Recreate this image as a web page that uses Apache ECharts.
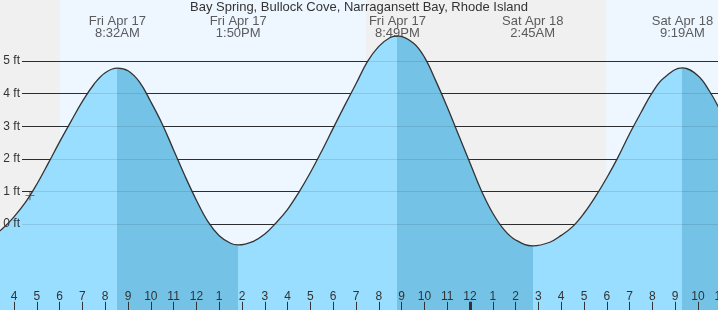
<!DOCTYPE html>
<html><head><meta charset="utf-8">
<script src="https://cdn.jsdelivr.net/npm/echarts@6/dist/echarts.min.js"></script>
<style>html,body{margin:0;padding:0;background:#f0f0f0}#c{width:718px;height:310px}</style>
</head><body><div id="c"></div>
<script>
const chartTitle = 'Bay Spring, Bullock Cove, Narragansett Bay, Rhode Island';
// hours since midnight, Fri Apr 17
const tideHours = [3.0,3.5,4.0,4.5,5.0,5.5,6.0,6.5,7.0,7.5,8.0,8.533,9.0,9.5,10.0,10.5,11.0,11.5,12.0,12.5,13.0,13.5,13.833,
  14.5,15.0,15.5,16.0,16.5,17.0,17.5,18.0,18.5,19.0,19.5,20.0,20.5,20.817,21.5,22.0,22.5,23.0,23.5,24.0,24.5,25.0,
  25.5,26.0,26.75,27.5,28.0,28.5,29.0,29.5,30.0,30.5,31.0,31.5,32.0,32.5,33.317,34.0,34.5,35.0];
const tideFeet = [-0.40,-0.14,0.22,0.66,1.22,1.86,2.52,3.15,3.76,4.28,4.64,4.78,4.70,4.36,3.75,3.07,2.27,1.47,0.73,0.08,-0.36,-0.59,-0.64,
  -0.53,-0.31,0.04,0.45,0.98,1.58,2.24,2.94,3.63,4.30,4.98,5.45,5.72,5.77,5.56,5.12,4.39,3.59,2.73,1.87,1.02,0.33,
  -0.18,-0.49,-0.67,-0.56,-0.35,-0.08,0.33,0.84,1.42,2.06,2.77,3.42,4.04,4.48,4.79,4.55,4.08,3.45];
const eventHours = [8.533, 13.833, 20.817, 26.75, 33.317];
const eventDays = ['Fri Apr 17','Fri Apr 17','Fri Apr 17','Sat Apr 18','Sat Apr 18'];
const eventTimes = ['8:32AM','1:50PM','8:49PM','2:45AM','9:19AM'];
const daylight = [[6.02, 19.44], [29.96, 35.0]];
const gridFeet = [0, 1, 2, 3, 4, 5];
const hourTicks = [3, 35];
const nowPoint = [4.70, 0.87];

const FONT = "'Liberation Sans', Arial, sans-serif";
const LIGHT = '#99ddff', DARK = '#74c2e6';
const GRID_X0 = 4.351;   // where gridlines begin (after label)
const LABEL_Y = 6.037;   // level for the event labels

const pts = tideHours.map((h, i) => [h, tideFeet[i]]);
const pieces = [];
let prev = null;
eventHours.forEach((h, i) => {
  const c = i % 2 === 0 ? LIGHT : DARK;
  const p = { lt: h, color: c };
  if (prev !== null) p.gte = prev;
  pieces.push(p);
  prev = h;
});
pieces.push({ gte: prev, color: DARK });

const chart = echarts.init(document.getElementById('c'), null, { renderer: 'canvas' });
chart.setOption({
  animation: false,
  backgroundColor: '#f0f0f0',
  textStyle: { fontFamily: FONT },
  title: { text: chartTitle, left: 'center', top: 1, padding: 0,
    textStyle: { fontSize: 13, fontWeight: 'normal', color: '#333', fontFamily: FONT } },
  grid: { left: -8.8, right: -2.8, top: -4.2, bottom: -11.8, containLabel: false, outerBoundsMode: 'none' },
  xAxis: [{
    type: 'value', min: hourTicks[0], max: hourTicks[1], interval: 1, position: 'bottom', z: 10,
    axisLine: { show: false, onZero: false }, splitLine: { show: false },
    axisTick: { show: true, inside: true, length: 20, lineStyle: { color: '#333', width: 1 } },
    axisLabel: { inside: true, margin: 19, fontSize: 12, color: '#333', fontFamily: FONT,
      formatter: v => { const m = v % 12; return String(m === 0 ? 12 : m); } }
  }, {
    type: 'value', min: hourTicks[0], max: hourTicks[1], position: 'bottom', z: 10,
    axisLine: { show: false, onZero: false }, splitLine: { show: false }, axisLabel: { show: false },
    axisTick: { show: true, inside: true, length: 20, customValues: [24], lineStyle: { color: '#333', width: 3 } }
  }],
  yAxis: { type: 'value', min: -3, max: 7, interval: 1, show: false, splitLine: { show: false } },
  visualMap: { type: 'piecewise', show: false, seriesIndex: 1, dimension: 0, pieces: pieces },
  series: [
    { type: 'line', data: pts, showSymbol: false, silent: true, z: 1, lineStyle: { opacity: 0 },
      markArea: { silent: true, z: 1, itemStyle: { color: '#eef7ff' },
        data: daylight.map(d => [{ xAxis: d[0] }, { xAxis: d[1] }]) },
      markLine: { silent: true, z: 2, symbol: 'none', label: { show: false },
        lineStyle: { color: '#333', width: 1, type: 'solid' },
        data: gridFeet.map(f => [{ coord: [GRID_X0, f] }, { coord: [hourTicks[1], f] }]) } },
    { type: 'line', data: pts, smooth: 0.4, showSymbol: false, silent: true, z: 3,
      lineStyle: { color: '#333', width: 1.3 }, areaStyle: { opacity: 1, origin: 'start' } },
    { type: 'line', data: pts, showSymbol: false, silent: true, z: 4, lineStyle: { opacity: 0 },
      markLine: { silent: true, z: 4, symbol: 'none',
        lineStyle: { color: 'rgba(0,0,0,0.1)', width: 1, type: 'solid' },
        label: { show: true, position: 'start', distance: 2, formatter: '{b}', fontSize: 12, color: '#333', fontFamily: FONT },
        data: gridFeet.map(f => [{ coord: [GRID_X0, f], name: f + ' ft' }, { coord: [hourTicks[1], f] }]) } },
    { type: 'scatter', silent: true, z: 5, symbolSize: 1, itemStyle: { color: 'rgba(0,0,0,0)' },
      data: eventHours.map((h, i) => ({ value: [h, LABEL_Y], name: eventDays[i] + '\n' + eventTimes[i] })),
      label: { show: true, position: 'inside', formatter: '{b}', fontSize: 13, lineHeight: 12, color: '#333', fontFamily: FONT, align: 'center' } },
    { type: 'scatter', silent: true, z: 6, data: [nowPoint], symbol: 'path://M0,4.5h10v1h-10z M4.5,0h1v10h-1z',
      symbolSize: 9, itemStyle: { color: '#333' } }
  ]
});
</script></body></html>
